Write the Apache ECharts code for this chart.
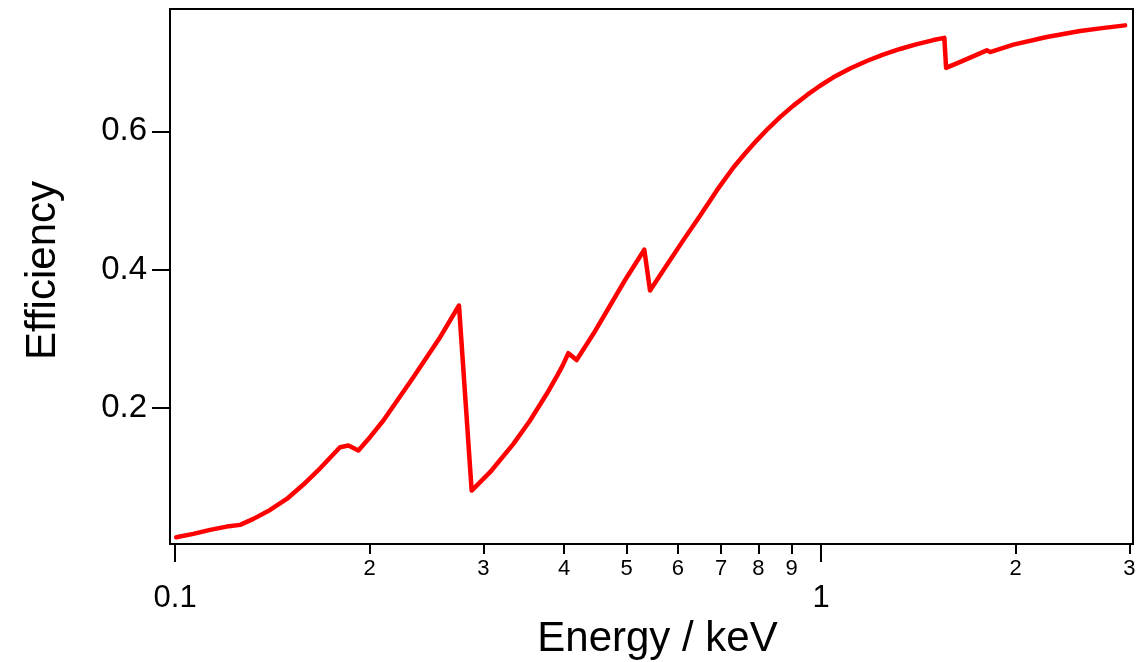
<!DOCTYPE html>
<html>
<head>
<meta charset="utf-8">
<script src="https://cdn.jsdelivr.net/npm/echarts@6/dist/echarts.min.js"></script>
<style>
html,body{margin:0;padding:0;background:#fff;}
#chart{width:1145px;height:662px;}
</style>
</head>
<body>
<div id="chart"></div>
<script>
var energy = [0.1004,0.1067,0.1133,0.1202,0.1261,0.1322,0.1403,0.1489,0.1580,0.1677,0.1800,0.1855,0.1922,0.2003,0.2101,0.2338,0.2572,0.2751,
  0.2878,0.3073,0.3340,0.3544,0.3762,0.3902,0.3980,0.4062,0.4184,0.4442,0.4714,0.5004,0.5326,
  0.5435,0.5771,0.6121,0.6496,0.6896,0.7315,0.7627,0.7954,0.8279,0.8640,0.9050,0.9503,0.9964,1.0448,1.1089,1.1769,1.2473,1.3253,1.4030,1.4923,1.5519,
  1.5614,1.6530,1.8052,1.8266,1.9850,2.2355,2.5178,2.7226,2.9560];
var efficiency = [0.012,0.017,0.0227,0.0275,0.0300,0.0387,0.0517,0.0676,0.0884,0.1120,0.1425,0.1449,0.1377,0.1570,0.1812,0.2439,0.3019,0.3478,
  0.0797,0.1063,0.1474,0.1812,0.2199,0.2459,0.2607,0.2787,0.2688,0.3068,0.3478,0.3888,0.4286,
  0.3696,0.4064,0.4425,0.4778,0.5145,0.5477,0.5680,0.5870,0.6041,0.6206,0.6370,0.6525,0.6661,0.6783,0.6912,0.7020,0.7113,0.7194,0.7261,0.7323,0.7355,
  0.6920,0.7017,0.7174,0.7149,0.7257,0.7367,0.7454,0.7496,0.7536];
var majorTicks = [0.1, 1];
var minorTicks = [0.2,0.3,0.4,0.5,0.6,0.7,0.8,0.9,2,3];
var yTicks = [0.2, 0.4, 0.6];
var xTitle = 'Energy / keV';
var yTitle = 'Efficiency';

var FONT = "'Liberation Sans', Arial, sans-serif";
var chart = echarts.init(document.getElementById('chart'), null, {renderer:'canvas'});
var data = energy.map(function(e,i){return [e, efficiency[i]];});
var XMIN = 0.0982, XMAX = 3.04;
function fmt(v){ return v >= 1 ? String(Math.round(v)) : (v < 0.15 ? '0.1' : String(Math.round(v*10))); }
chart.setOption({
  animation:false,
  backgroundColor:'#fff',
  grid:{left:170,right:12,top:9,bottom:118,show:true,borderColor:'#000',borderWidth:2,backgroundColor:'transparent',containLabel:false,outerBoundsMode:'none'},
  xAxis:[{
    type:'log', min:XMIN, max:XMAX, position:'bottom',
    axisLine:{show:true,lineStyle:{color:'#000',width:2}},
    axisTick:{show:true,inside:false,length:10,lineStyle:{color:'#000',width:2},customValues:minorTicks},
    axisLabel:{show:true,margin:14,fontSize:22,color:'#000',fontFamily:FONT,customValues:minorTicks,formatter:function(v){return fmt(v);}},
    splitLine:{show:false}, minorTick:{show:false},
    name:xTitle, nameLocation:'middle', nameGap:74,
    nameTextStyle:{fontSize:42,color:'#000',fontFamily:FONT,padding:[0,0,0,12]}
  },{
    type:'log', min:XMIN, max:XMAX, position:'bottom',
    axisLine:{show:false},
    axisTick:{show:true,inside:false,length:18,lineStyle:{color:'#000',width:2},customValues:majorTicks},
    axisLabel:{show:true,margin:39,fontSize:31,color:'#000',fontFamily:FONT,customValues:majorTicks,formatter:function(v){return fmt(v);}},
    splitLine:{show:false}
  }],
  yAxis:{
    type:'value', min:0.0023, max:0.7773,
    axisLine:{show:true,lineStyle:{color:'#000',width:2}},
    axisTick:{show:true,inside:false,length:18,lineStyle:{color:'#000',width:2},customValues:yTicks},
    axisLabel:{show:true,margin:23,fontSize:33,color:'#000',fontFamily:FONT,customValues:yTicks,formatter:function(v){return v.toFixed(1);}},
    splitLine:{show:false},
    name:yTitle, nameLocation:'middle', nameGap:106,
    nameTextStyle:{fontSize:42,color:'#000',fontFamily:FONT,padding:[0,0,0,12]}
  },
  series:[{
    type:'line', xAxisIndex:0, yAxisIndex:0, data:data,
    showSymbol:false, symbol:'none', smooth:false,
    lineStyle:{color:'#ff0000',width:4.5,join:'round',cap:'round'},
    clip:true
  }]
});
</script>
</body>
</html>
